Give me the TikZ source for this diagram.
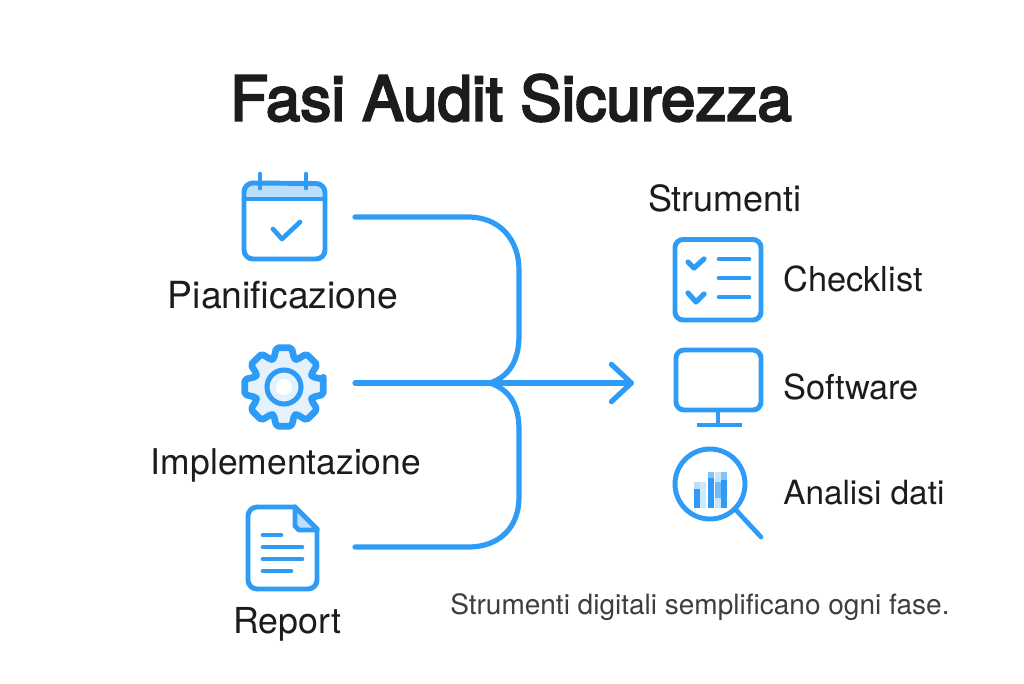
\documentclass[tikz,border=0pt]{standalone}
\usepackage{fontspec}
\setmainfont{TeX Gyre Heros}
\newfontfamily\titlefont[FakeBold=3.5]{TeX Gyre Heros}
\usetikzlibrary{arrows.meta}
\definecolor{blu}{HTML}{2E9BF6}
\definecolor{lite}{HTML}{E3F2FD}
\definecolor{mid}{HTML}{BBDEFB}
\definecolor{ink}{HTML}{1C1C1C}
\tikzset{
  ico/.style={draw=blu,line width=3.7pt,line join=round,line cap=round},
  thin ico/.style={draw=blu,line width=3.5pt,line cap=round,line join=round},
  conn/.style={draw=blu,line width=3.9pt,line cap=round},
  title/.style={font=\fontsize{46.5}{50}\titlefont,text=ink,inner sep=0pt},
  lab/.style={text=ink,inner sep=0pt},
  side/.style={lab,anchor=west},
  note/.style={font=\fontsize{21}{25}\selectfont,text=ink!85,inner sep=0pt,anchor=west}
}
\newcommand{\fsz}[1]{\fontsize{#1}{30}\selectfont}
\begin{document}
\begin{tikzpicture}[x=0.75pt,y=-0.75pt]
\useasboundingbox[fill=white] (0,0) rectangle (1024,683);
% texts
\node[title] (ttl) at (511,98) {Fasi Audit Sicurezza};
\node[lab,font=\fsz{28}] (lp) at (283,295) {Pianificazione};
\node[lab,font=\fsz{26.6}] (li) at (286,465) {Implementazione};
\node[lab,font=\fsz{26.8}] (lr) at (287,624) {Report};
\node[lab,font=\fsz{27}] (ls) at (725,198) {Strumenti};
\node[side,font=\fsz{25.8}] (lc) at (783,279) {Checklist};
\node[side,font=\fsz{25.8}] (lw) at (783,387) {Software};
\node[side,font=\fsz{25}] (la) at (783,493) {Analisi dati};
\node[note] (ln) at (450,607) {Strumenti digitali semplificano ogni fase.};
% connectors
\coordinate (c1) at (355,217);
\coordinate (c2) at (355,383);
\coordinate (c3) at (355,547);
\coordinate (hub) at (490,383);
\coordinate (tip) at (634,383);
\draw[conn] (c1) -- (468,217) .. controls (500,217) and (519,240) .. (519,270) -- (519,335) .. controls (519,360) and (510,376) .. (hub);
\draw[conn] (hub) .. controls (510,390) and (519,405) .. (519,430) -- (519,497) .. controls (519,527) and (500,547) .. (468,547) -- (c3);
\draw[conn,-{Straight Barb[length=15pt,width=28pt,round]}] (c2) -- (tip);
% calendar
\fill[mid] (245,199) -- (245,192) arc[start angle=180,end angle=270,radius=9] -- (316,183) arc[start angle=270,end angle=360,radius=9] -- (325,199) -- cycle;
\draw[ico] (244,192) arc[start angle=180,end angle=270,radius=9] -- (316,183.500) arc[start angle=270,end angle=360,radius=9] -- (325,250) arc[start angle=0,end angle=90,radius=9] -- (253,259) arc[start angle=90,end angle=180,radius=9] -- cycle;
\draw[thin ico] (244,199) -- (325,199);
\draw[thin ico] (260,174) -- (260,188);
\draw[thin ico] (306,174) -- (306,188);
\draw[thin ico] (273,229) -- (282,239) -- (300,222);
% gear
\begin{scope}[shift={(284,387)}]
\draw[ico,fill=lite,line width=5pt,rounded corners=1.5pt] (-11:40)
  \foreach \a in {0,45,...,315} { -- ({\a-11}:40) -- ({\a+11}:40) -- ({\a+20}:30) -- ({\a+25}:30) }
  -- cycle;
\draw[draw=blu,line width=3.8pt,fill=lite] (0,0) circle[radius=17];
\fill[white] (0,0) circle[radius=8];
\end{scope}
% report
\draw[ico,fill=white] (295,507) -- (257,507) arc[start angle=270,end angle=180,radius=9] -- (248,580) arc[start angle=180,end angle=90,radius=9] -- (308,589) arc[start angle=90,end angle=0,radius=9] -- (317,529) -- cycle;
\fill[mid] (295,507) -- (317,529) -- (295,530) -- cycle;
\draw[ico] (295,507) -- (295,526) -- (299,530) -- (317,530);
\draw[ico] (295,507) -- (317,529);
\draw[thin ico] (263,535) -- (281,535);
\draw[thin ico] (263,547) -- (302,547);
\draw[thin ico] (263,559) -- (302,559);
\draw[thin ico] (263,571) -- (291,571);
% checklist
\draw[ico,rounded corners=6pt] (675,239.500) rectangle (761,320);
\draw[ico,line width=3.9pt] (688,262) -- (694,268) -- (704,259);
\draw[ico,line width=3.9pt] (688,293) -- (696,302) -- (704,294);
\draw[thin ico] (719,259) -- (749,259);
\draw[thin ico] (719,278) -- (749,278);
\draw[thin ico] (719,297) -- (749,297);
% monitor
\draw[ico,rounded corners=6pt] (676,350) rectangle (761,410);
\draw[thin ico,line cap=butt] (718,410) -- (718,425);
\draw[thin ico,line cap=butt] (697,425) -- (742,425);
% magnifier
\foreach \x/\t/\c in {696.500/482/blu,703/482/mid!70,710.500/472/blu,717.500/472/mid!80,724/472/blu}
  \fill[\c] ({\x-3},\t) rectangle ({\x+3},508);
\fill[mid] (693.500,482) rectangle (699.500,489);
\fill[mid!60!blu] (707.500,472) rectangle (713.500,478);
\fill[blu!70] (714.500,482) rectangle (720.500,498);
\fill[mid!60!blu] (721,472) rectangle (727,480);
\draw[draw=blu,line width=3.7pt] (710,484) circle[radius=35];
\draw[thin ico] (735,509) -- (761,537);
\end{tikzpicture}
\end{document}
